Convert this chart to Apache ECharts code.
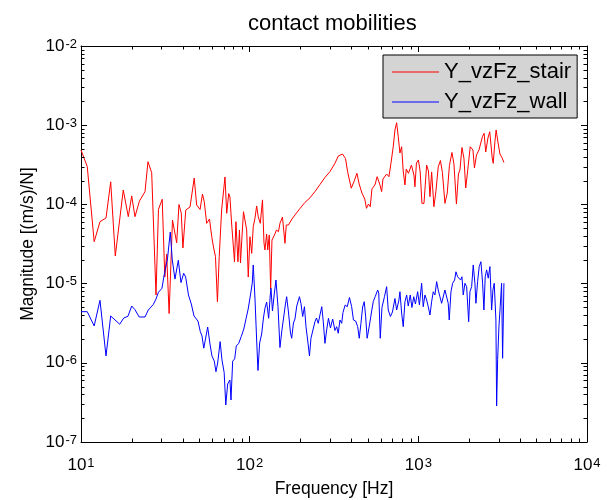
<!DOCTYPE html>
<html>
<head>
<meta charset="utf-8">
<script src="https://cdn.jsdelivr.net/npm/echarts@6.0.0/dist/echarts.min.js"></script>
<style>
  html, body { margin: 0; padding: 0; background: #fff; }
  #chart { width: 607px; height: 500px; }
</style>
</head>
<body>
<div id="chart"></div>
<script>
const stairFreq = [
  10.0, 10.89, 11.97, 12.96, 14.07, 15.0, 15.97, 17.81, 19.07, 19.98,
  20.9, 22.2, 23.96, 24.95, 26.25, 27.84, 28.8, 30.3, 31.4, 32.2,
  33.3, 34.86, 35.73, 36.93, 38.1, 39.3, 40.2, 41.8, 44.3, 46.9,
  48.5, 50.8, 52.5, 53.8, 55.6, 57.8, 59.6, 61.0, 62.7, 64.4,
  66.0, 68.2, 71.4, 73.1, 75.1, 76.4, 78.2, 81.3, 82.9, 85.2,
  87.0, 88.2, 89.8, 91.9, 94.0, 96.0, 98.1, 100.4, 102.8, 105.0,
  107.5, 110.0, 112.4, 115.6, 119.1, 121.6, 123.2, 126.1, 128.0, 130.7,
  133.2, 135.6, 140.3, 144.2, 148.2, 151.2, 156.5, 161.9, 164.8, 169.8,
  178.1, 185.6, 198.7, 212.7, 227.8, 243.8, 261.0, 279.5, 299.2, 320.4,
  335.1, 354.9, 369.9, 381.6, 400.3, 417.0, 432.5, 445.8, 463.2, 481.3,
  492.6, 506.1, 518.7, 530.9, 552.9, 570.0, 592.2, 606.0, 616.9, 648.8,
  669.5, 688.1, 710.0, 726.7, 743.8, 760.2, 778.0, 796.2, 813.8, 833.0,
  847.9, 873.7, 910.2, 941.7, 954.6, 974.3, 1001, 1026, 1050, 1080,
  1120, 1148, 1172, 1199, 1237, 1272, 1312, 1352, 1389, 1438,
  1484, 1529, 1582, 1626, 1682, 1729, 1765, 1814, 1864, 1910,
  1963, 2031, 2108, 2151, 2211, 2288, 2335, 2399, 2455, 2509,
  2586, 2650, 2742, 2780, 2845, 2892, 2965, 3046, 3130, 3217
];
const stairMag = [
  4.86e-4, 3.01e-4, 3.38e-5, 6.05e-5, 6.73e-5, 1.93e-4, 2.23e-5, 1.52e-4, 7.0e-5, 1.28e-4,
  7.0e-5, 1.10e-4, 1.45e-4, 3.46e-4, 2.51e-4, 7.18e-6, 8.67e-5, 1.16e-4, 1.21e-5, 2.36e-5,
  4.19e-6, 6.35e-5, 6.35e-5, 3.28e-5, 9.97e-5, 7.78e-5, 2.82e-5, 8.5e-5, 9.27e-5, 2.15e-4,
  9.82e-5, 8.62e-5, 1.35e-4, 1.08e-4, 5.77e-5, 6.54e-5, 3.91e-5, 2.90e-5, 2.19e-5, 5.91e-6,
  2.19e-5, 8.5e-5, 2.22e-4, 7.72e-5, 1.37e-4, 1.24e-4, 5.66e-5, 1.89e-5, 6.05e-5, 1.89e-5,
  4.75e-5, 1.82e-5, 3.55e-5, 8.09e-5, 8.09e-5, 4.75e-5, 1.21e-5, 3.91e-5, 2.41e-5, 5.23e-5,
  6.68e-5, 9.55e-5, 7.0e-5, 5.77e-5, 1.14e-4, 3.26e-5, 2.66e-5, 4.23e-5, 2.66e-5, 4.11e-5,
  8.55e-6, 3.55e-5, 4.11e-5, 4.75e-5, 4.52e-5, 5.77e-5, 6.93e-5, 3.23e-5, 5.49e-5, 5.49e-5,
  6.54e-5, 7.35e-5, 8.87e-5, 1.06e-4, 1.21e-4, 1.45e-4, 1.78e-4, 2.19e-4, 2.59e-4, 3.30e-4,
  4.08e-4, 4.33e-4, 3.80e-4, 2.53e-4, 1.60e-4, 1.98e-4, 2.47e-4, 1.81e-4, 1.39e-4, 1.17e-4,
  8.93e-5, 1.01e-4, 9.35e-5, 1.57e-4, 1.76e-4, 2.24e-4, 1.76e-4, 1.45e-4, 2.09e-4, 2.42e-4,
  2.24e-4, 3.30e-4, 5.35e-4, 8.70e-4, 1.075e-3, 7.16e-4, 4.46e-4, 5.35e-4, 2.64e-4, 1.76e-4,
  2.80e-4, 2.47e-4, 3.14e-4, 2.35e-4, 1.67e-4, 3.33e-4, 3.64e-4, 2.57e-4, 1.03e-4, 1.03e-4,
  3.14e-4, 2.64e-4, 1.25e-4, 2.57e-4, 9.35e-5, 1.48e-4, 2.97e-4, 3.58e-4, 2.53e-4, 1.03e-4,
  1.39e-4, 3.10e-4, 4.52e-4, 3.24e-4, 1.01e-4, 2.42e-4, 2.72e-4, 5.23e-4, 3.82e-4, 1.61e-4,
  2.72e-4, 5.35e-4, 4.86e-4, 2.88e-4, 4.20e-4, 4.86e-4, 4.86e-4, 7.16e-4, 7.90e-4, 4.59e-4,
  6.89e-4, 8.28e-4, 3.85e-4, 3.30e-4, 6.23e-4, 8.70e-4, 6.14e-4, 4.33e-4, 3.91e-4, 3.38e-4
];
const wallFreq = [
  10.0, 10.89, 11.97, 12.96, 14.07, 15.0, 16.96, 17.93, 18.99, 19.98,
  20.9, 22.13, 23.96, 25.06, 26.83, 27.84, 28.8, 30.2, 31.1, 32.56,
  33.83, 34.77, 36.07, 37.75, 39.15, 40.62, 41.74, 43.37, 45.07, 46.77,
  47.85, 49.38, 50.96, 52.16, 53.45, 54.56, 56.37, 58.17, 59.77, 61.68,
  63.12, 64.6, 66.84, 68.5, 70.6, 72.16, 74.06, 75.6, 76.4, 77.5,
  79.3, 81.5, 83.3, 86.1, 89.1, 92.3, 95.3, 98.0, 101.1, 103.6,
  105.0, 107.5, 110.0, 112.0, 114.6, 117.8, 120.7, 123.2, 126.1, 129.6,
  132.5, 133.8, 136.5, 139.7, 143.2, 147.2, 151.2, 155.4, 159.1, 163.0,
  165.7, 169.8, 174.6, 177.5, 181.8, 185.6, 190.2, 197.3, 201.4, 206.2,
  211.3, 215.7, 220.7, 226.2, 230.9, 236.3, 243.8, 248.9, 255.1, 261.0,
  267.6, 273.2, 279.5, 286.1, 293.2, 301.3, 310.5, 320.4, 328.0, 335.1,
  343.1, 351.2, 357.5, 368.3, 378.9, 390.5, 402.4, 412.4, 425.0, 436.8,
  446.4, 456.8, 467.6, 477.9, 487.1, 497.2, 513.1, 528.9, 540.6, 555.5,
  573.9, 582.6, 594.6, 608.6, 629.6, 648.8, 663.1, 683.3, 702.3, 726.7,
  743.8, 767.4, 778.0, 796.2, 813.8, 833.0, 852.5, 871.2, 895.4, 916.5,
  939.1, 961.2, 990.6, 1015, 1046, 1069, 1094, 1120, 1145, 1172,
  1199, 1226, 1254, 1284, 1312, 1343, 1374, 1404, 1438, 1472,
  1504, 1525, 1561, 1597, 1641, 1671, 1710, 1748, 1781, 1814,
  1846, 1889, 1934, 1988, 2023, 2070, 2116, 2165, 2195, 2246,
  2296, 2350, 2405, 2448, 2492, 2541, 2597, 2657, 2720, 2768,
  2818, 2884, 2912, 2952, 3005, 3058, 3116, 3160, 3217
];
const wallMag = [
  4.42e-6, 4.42e-6, 2.92e-6, 6.15e-6, 1.22e-6, 3.90e-6, 3.07e-6, 3.68e-6, 3.87e-6, 5.21e-6,
  4.68e-6, 3.79e-6, 3.79e-6, 4.64e-6, 5.45e-6, 6.39e-6, 7.79e-6, 8.72e-6, 1.28e-5, 2.05e-5,
  4.48e-5, 1.99e-5, 1.14e-5, 1.97e-5, 1.03e-5, 1.35e-5, 1.21e-5, 7.18e-6, 5.53e-6, 3.90e-6,
  3.98e-6, 3.37e-6, 2.48e-6, 2.18e-6, 1.53e-6, 1.94e-6, 2.83e-6, 1.73e-6, 1.22e-6, 1.05e-6,
  7.72e-7, 9.94e-7, 1.85e-6, 1.09e-6, 7.54e-7, 2.93e-7, 5.40e-7, 5.24e-7, 6.07e-7, 3.39e-7,
  1.05e-6, 1.12e-6, 1.63e-6, 1.76e-6, 2.14e-6, 2.67e-6, 3.65e-6, 4.78e-6, 7.18e-6, 1.01e-5,
  1.72e-5, 6.58e-6, 1.94e-6, 8.0e-7, 1.78e-6, 2.31e-6, 3.68e-6, 4.88e-6, 5.86e-6, 3.65e-6,
  7.18e-6, 8.72e-6, 4.51e-6, 7.18e-6, 1.11e-5, 5.11e-6, 1.56e-6, 2.60e-6, 2.52e-6, 5.53e-6,
  6.83e-6, 4.38e-6, 2.38e-6, 2.04e-6, 3.18e-6, 3.57e-6, 5.21e-6, 6.83e-6, 5.64e-6, 3.84e-6,
  5.11e-6, 2.86e-6, 1.94e-6, 1.22e-6, 2.04e-6, 1.94e-6, 3.30e-6, 3.68e-6, 3.15e-6, 4.01e-6,
  5.11e-6, 3.30e-6, 1.76e-6, 2.60e-6, 3.65e-6, 2.75e-6, 3.57e-6, 2.56e-6, 2.86e-6, 2.36e-6,
  3.47e-6, 3.15e-6, 4.32e-6, 5.37e-6, 5.11e-6, 6.68e-6, 5.11e-6, 3.47e-6, 3.37e-6, 2.86e-6,
  2.04e-6, 3.15e-6, 5.07e-6, 5.91e-6, 3.82e-6, 2.04e-6, 3.00e-6, 4.51e-6, 5.94e-6, 6.87e-6,
  8.30e-6, 7.61e-6, 2.04e-6, 4.99e-6, 6.83e-6, 9.14e-6, 4.64e-6, 3.84e-6, 4.38e-6, 6.48e-6,
  4.64e-6, 6.21e-6, 7.90e-6, 4.25e-6, 2.86e-6, 5.91e-6, 7.18e-6, 5.21e-6, 7.18e-6, 4.99e-6,
  6.83e-6, 5.53e-6, 7.90e-6, 5.37e-6, 1.01e-5, 5.11e-6, 7.18e-6, 6.21e-6, 5.11e-6, 4.01e-6,
  5.91e-6, 7.90e-6, 7.18e-6, 1.06e-5, 8.30e-6, 6.83e-6, 5.64e-6, 5.91e-6, 8.30e-6, 7.90e-6,
  5.64e-6, 3.47e-6, 7.90e-6, 1.01e-5, 1.11e-5, 1.41e-5, 1.22e-5, 1.28e-5, 1.11e-5, 1.22e-5,
  7.18e-6, 1.01e-5, 9.14e-6, 3.30e-6, 7.90e-6, 9.14e-6, 1.72e-5, 1.01e-5, 5.64e-6, 1.06e-5,
  1.64e-5, 1.89e-5, 1.01e-5, 4.64e-6, 1.22e-5, 1.49e-5, 1.17e-5, 1.64e-5, 4.64e-6, 8.30e-6,
  1.01e-5, 3.47e-6, 2.85e-7, 1.09e-6, 2.86e-6, 5.11e-6, 1.01e-5, 1.14e-6, 1.01e-5
];
const seriesNames = ['Y_vzFz_stair', 'Y_vzFz_wall'];
const xMinorTicks = [20, 30, 40, 50, 60, 70, 80, 90,
  200, 300, 400, 500, 600, 700, 800, 900,
  2000, 3000, 4000, 5000, 6000, 7000, 8000, 9000];
const yMinorTicks = [2e-7, 3e-7, 4e-7, 5e-7, 6e-7, 7e-7, 8e-7, 9e-7,
  2e-6, 3e-6, 4e-6, 5e-6, 6e-6, 7e-6, 8e-6, 9e-6,
  2e-5, 3e-5, 4e-5, 5e-5, 6e-5, 7e-5, 8e-5, 9e-5,
  2e-4, 3e-4, 4e-4, 5e-4, 6e-4, 7e-4, 8e-4, 9e-4,
  2e-3, 3e-3, 4e-3, 5e-3, 6e-3, 7e-3, 8e-3, 9e-3];

const FONT = '"Liberation Sans", Arial, Helvetica, sans-serif';
const MINOR_LEN = 3.5;

function expLabel(v) {
  const e = Math.round(Math.log10(v));
  return '{b|10}{e|' + e + '}';
}
const labelRich = {
  b: { fontSize: 17, lineHeight: 17, verticalAlign: 'bottom', fontFamily: FONT, color: '#000' },
  e: { fontSize: 13, lineHeight: 13, padding: [0, 0, 10, 1], verticalAlign: 'top', fontFamily: FONT, color: '#000' }
};

const axisLineStyle = { show: true, onZero: false, lineStyle: { color: '#000', width: 1 } };
const majorTick = { show: true, inside: true, length: 6, lineStyle: { color: '#000', width: 1 } };

function renderXMinor(params, api) {
  const cs = params.coordSys;
  const x = Math.round(api.coord([api.value(0), api.value(1)])[0]) + 0.5;
  const top = cs.y, bottom = cs.y + cs.height;
  return {
    type: 'group',
    children: [
      { type: 'line', shape: { x1: x, y1: bottom, x2: x, y2: bottom - MINOR_LEN }, style: { stroke: '#000', lineWidth: 1 } },
      { type: 'line', shape: { x1: x, y1: top, x2: x, y2: top + MINOR_LEN }, style: { stroke: '#000', lineWidth: 1 } }
    ]
  };
}
function renderYMinor(params, api) {
  const cs = params.coordSys;
  const y = Math.round(api.coord([api.value(0), api.value(1)])[1]) + 0.5;
  const left = cs.x, right = cs.x + cs.width;
  return {
    type: 'group',
    children: [
      { type: 'line', shape: { x1: left, y1: y, x2: left + MINOR_LEN, y2: y }, style: { stroke: '#000', lineWidth: 1 } },
      { type: 'line', shape: { x1: right, y1: y, x2: right - MINOR_LEN, y2: y }, style: { stroke: '#000', lineWidth: 1 } }
    ]
  };
}

const chart = echarts.init(document.getElementById('chart'), null, { renderer: 'canvas' });
chart.setOption({
  animation: false,
  backgroundColor: '#fff',
  title: {
    text: 'contact mobilities',
    left: 248, top: 13, padding: 0,
    textStyle: { fontSize: 22, fontWeight: 'normal', color: '#000', fontFamily: FONT }
  },
  legend: {
    data: seriesNames,
    orient: 'vertical',
    left: 383, top: 55,
    padding: [5, 6, 4, 9],
    icon: 'rect',
    itemWidth: 47, itemHeight: 1, itemGap: 6,
    backgroundColor: '#d4d4d4',
    borderColor: '#000', borderWidth: 1, borderRadius: 0,
    selectedMode: false,
    textStyle: { fontSize: 22, lineHeight: 24, color: '#000', fontFamily: FONT }
  },
  grid: { left: 81, right: 20, top: 46, bottom: 58, containLabel: false, outerBoundsMode: 'none' },
  xAxis: [
    {
      type: 'log', logBase: 10, min: 10, max: 10000, position: 'bottom',
      axisLine: axisLineStyle, axisTick: majorTick, splitLine: { show: false },
      axisLabel: { formatter: expLabel, rich: labelRich, margin: 15 },
      name: 'Frequency [Hz]', nameLocation: 'middle', nameGap: 38, nameMoveOverlap: false,
      nameTextStyle: { fontSize: 17.5, color: '#000', fontFamily: FONT }
    },
    {
      type: 'log', logBase: 10, min: 10, max: 10000, position: 'top',
      axisLine: axisLineStyle, axisTick: majorTick, splitLine: { show: false },
      axisLabel: { show: false }
    }
  ],
  yAxis: [
    {
      type: 'log', logBase: 10, min: 1e-7, max: 1e-2, position: 'left',
      axisLine: axisLineStyle, axisTick: majorTick, splitLine: { show: false },
      axisLabel: { formatter: expLabel, rich: labelRich, margin: 4 },
      name: 'Magnitude [(m/s)/N]', nameLocation: 'middle', nameGap: 44, nameMoveOverlap: false,
      nameTextStyle: { fontSize: 17.5, color: '#000', fontFamily: FONT }
    },
    {
      type: 'log', logBase: 10, min: 1e-7, max: 1e-2, position: 'right',
      axisLine: axisLineStyle, axisTick: majorTick, splitLine: { show: false },
      axisLabel: { show: false }
    }
  ],
  series: [
    {
      name: seriesNames[0], type: 'line', xAxisIndex: 0, yAxisIndex: 0,
      symbol: 'none', showSymbol: false,
      lineStyle: { color: '#ff0000', width: 1 }, itemStyle: { color: '#ff0000' },
      data: stairFreq.map((f, i) => [f, stairMag[i]])
    },
    {
      name: seriesNames[1], type: 'line', xAxisIndex: 0, yAxisIndex: 0,
      symbol: 'none', showSymbol: false,
      lineStyle: { color: '#0000ff', width: 1 }, itemStyle: { color: '#0000ff' },
      data: wallFreq.map((f, i) => [f, wallMag[i]])
    },
    {
      type: 'custom', xAxisIndex: 0, yAxisIndex: 0, silent: true, z: 4,
      renderItem: renderXMinor,
      data: xMinorTicks.map(v => [v, 1e-4])
    },
    {
      type: 'custom', xAxisIndex: 0, yAxisIndex: 0, silent: true, z: 4,
      renderItem: renderYMinor,
      data: yMinorTicks.map(v => [100, v])
    }
  ]
});
</script>
</body>
</html>
